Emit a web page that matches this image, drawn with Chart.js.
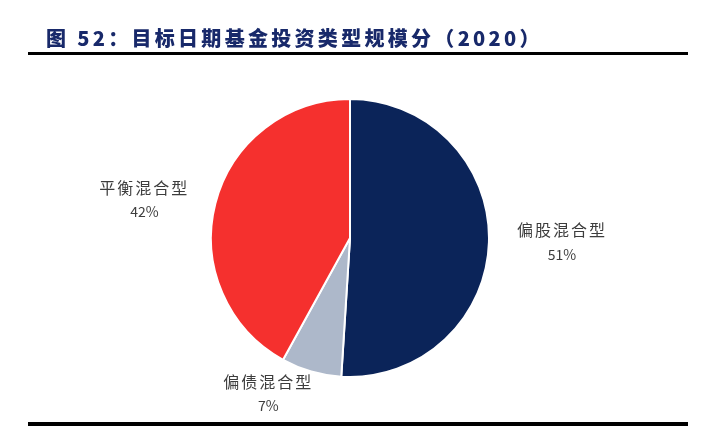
<!DOCTYPE html>
<html>
<head>
<meta charset="utf-8">
<script src="https://cdn.jsdelivr.net/npm/chart.js@4.4.0/dist/chart.umd.min.js"></script>
<style>
  html, body { margin: 0; padding: 0; background: #ffffff; }
  #wrap { width: 710px; height: 426px; }
</style>
</head>
<body>
<div id="wrap"><canvas id="pieChart"></canvas></div>
<script>
// --- Data ---
const TITLE = '图 52：目标日期基金投资类型规模分（2020）';
const categories = ['偏股混合型', '偏债混合型', '平衡混合型'];
const shares = [51, 7, 42];
const sliceColors = ['#0b2459', '#adb8ca', '#f5302e'];

// label nudges from the outer edge of each slice (px)
const labelNudge = [[73, 0], [-43, 22], [-71, -4]];

/**
 * Draws title, rules and the outside labels
 */
const decorPlugin = {
    id: 'decor',
    afterDraw(chart) {
        const ctx = chart.ctx;
        ctx.save();

        // Title
        ctx.fillStyle = '#18296a';
        ctx.font = '900 20px "Noto Sans CJK SC"';
        ctx.letterSpacing = '3.3px';
        ctx.textAlign = 'left';
        ctx.textBaseline = 'middle';
        ctx.fillText(TITLE, 46, 38);

        // Rules
        ctx.fillStyle = '#000000';
        ctx.fillRect(28, 52, 660, 3);
        ctx.fillRect(28, 422, 660, 4);

        // Slice labels
        const meta = chart.getDatasetMeta(0);
        ctx.fillStyle = '#3d3d3d';
        ctx.textAlign = 'center';
        meta.data.forEach((arc, i) => {
            const mid = (arc.startAngle + arc.endAngle) / 2;
            const x = arc.x + Math.cos(mid) * arc.outerRadius + labelNudge[i][0];
            const y = arc.y + Math.sin(mid) * arc.outerRadius + labelNudge[i][1];
            ctx.font = '16px "Noto Sans CJK SC"';
            ctx.letterSpacing = '2px';
            ctx.fillText(categories[i], x, y - 12);
            ctx.font = '14px "Noto Sans CJK SC"';
            ctx.letterSpacing = '0px';
            ctx.fillText(shares[i] + '%', x, y + 12);
        });
        ctx.restore();
    }
};

new Chart(document.getElementById('pieChart'), {
    type: 'pie',
    data: {
        labels: categories,
        datasets: [{
            data: shares,
            backgroundColor: sliceColors,
            borderColor: '#ffffff',
            borderWidth: 2
        }]
    },
    options: {
        responsive: true,
        maintainAspectRatio: false,
        animation: false,
        layout: { padding: { top: 98, bottom: 48, left: 0, right: 10 } },
        plugins: {
            legend: { display: false },
            tooltip: { enabled: false }
        }
    },
    plugins: [decorPlugin]
});
</script>
</body>
</html>
